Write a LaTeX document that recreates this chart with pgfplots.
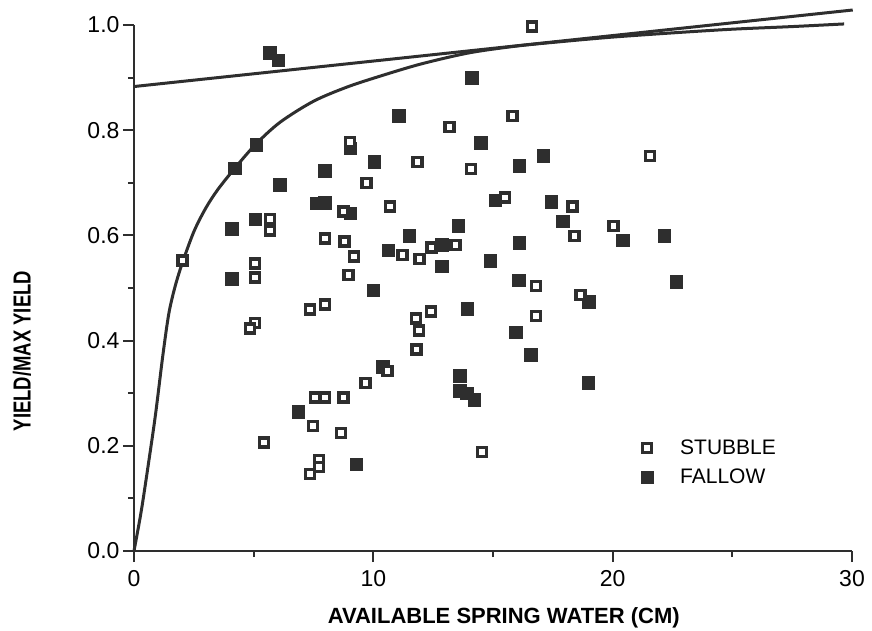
\documentclass[border=0pt]{standalone}
\usepackage{pgfplots}
\pgfplotsset{compat=1.18}
\usepackage{fontspec}
\setmainfont{Liberation Sans}
\definecolor{ink}{gray}{0.18}
\pgfplotsset{myleg/.style={legend image code/.code={\draw[##1] plot coordinates {(8pt,0pt)}; \path[draw=none,fill=none] (0pt,-6pt) rectangle (39pt,6pt);}}}
\begin{document}
\begin{tikzpicture}
\useasboundingbox (-134pt,-80pt) rectangle (738pt,551pt);
\begin{axis}[
  at={(0pt,0pt)}, anchor=south west,
  scale only axis, width=718pt, height=526pt,
  xmin=0, xmax=30, ymin=0, ymax=1,
  clip=false,
  separate axis lines,
  axis x line*=bottom, axis y line*=left,
  x axis line style={-, line width=2.5pt, ink},
  y axis line style={-, line width=2.5pt, ink},
  xtick={0,10,20,30}, minor xtick={5,15,25},
  ytick={0,0.2,0.4,0.6,0.8,1.0}, minor ytick={0.1,0.3,0.5,0.7,0.9},
  tick align=outside, major tick length=11pt, minor tick length=6pt,
  every tick/.style={line width=2pt, ink},
  /pgf/number format/assume math mode=true,
  xticklabel style={font=\fontsize{23}{23}\selectfont, yshift=-5pt},
  yticklabel style={font=\fontsize{23}{23}\selectfont,
    /pgf/number format/.cd, fixed, fixed zerofill, precision=1},
  xlabel={\textbf{AVAILABLE SPRING WATER (CM)}},
  every axis x label/.style={at={(rel axis cs:0.515,0)}, anchor=base, yshift=-72pt,
    font=\fontsize{22}{22}\selectfont},
  ylabel={\scalebox{0.84}[1.12]{\textbf{YIELD/MAX YIELD}}},
  every axis y label/.style={at={(rel axis cs:-0.156,0.38)}, anchor=center, rotate=90,
    font=\fontsize{22}{22}\selectfont},
  legend style={at={(axis cs:21.1,0.2155)}, anchor=north west, draw=none, fill=none,
    font=\fontsize{21}{21}\selectfont, inner sep=0pt, row sep=9pt},
  legend cell align=left,
  reverse legend,
]
% straight line
\addplot[ink, line width=3pt, forget plot] coordinates {(0,0.883) (30.03,1.0285)};
% fitted curve
\addplot[ink, line width=3pt, smooth, forget plot] coordinates {
(0,0) (0.3,0.075) (0.6,0.165) (0.9,0.26) (1.2,0.37) (1.45,0.45) (1.7,0.50)
(2.0,0.545) (2.5,0.607) (3.0,0.652) (3.5,0.687) (4.2,0.727) (5.06,0.772) (6.1,0.815)
(7.5,0.855) (8.9,0.882) (10.3,0.903) (12,0.926) (14,0.947) (16,0.960)
(18,0.969) (20,0.977) (22.5,0.985) (25,0.992) (27.5,0.997) (29.67,1.002)};
% FALLOW
\addplot[only marks, mark=square*, mark size=6.3pt,
  mark options={fill=ink, draw=ink, line width=0.5pt}, myleg]
coordinates {
(5.68,0.947) (6.02,0.933) (14.11,0.900) (11.05,0.827) (14.50,0.776) (5.10,0.772)
(9.03,0.766) (17.10,0.751) (10.03,0.740) (16.10,0.732) (4.22,0.728) (7.98,0.723)
(6.10,0.696) (15.09,0.667) (17.43,0.664) (7.63,0.661) (7.98,0.662) (9.03,0.642)
(5.06,0.631) (17.91,0.627) (13.55,0.618) (4.08,0.613) (11.50,0.599) (22.16,0.599)
(20.42,0.591) (16.10,0.586) (12.86,0.582) (10.63,0.572) (14.88,0.552) (12.86,0.541)
(4.08,0.518) (16.08,0.515) (22.65,0.512) (10.0,0.496) (19.01,0.474) (13.93,0.460)
(15.95,0.416) (16.58,0.373) (10.39,0.350) (13.62,0.333) (18.98,0.320) (13.62,0.305)
(13.90,0.300) (14.21,0.288) (6.87,0.265) (9.28,0.165)};
\addlegendentry{FALLOW}
% STUBBLE
\addplot[only marks, mark=square*, mark size=4.5pt,
  mark options={fill=white, draw=ink, line width=3.5pt}, myleg]
coordinates {
(16.62,0.997) (15.81,0.827) (13.18,0.806) (9.03,0.778) (11.85,0.740) (14.08,0.726)
(21.56,0.751) (9.72,0.700) (10.70,0.655) (15.50,0.672) (18.32,0.655) (8.75,0.645)
(5.68,0.631) (5.68,0.609) (20.03,0.618) (18.40,0.599) (7.98,0.594) (8.79,0.588)
(13.44,0.582) (12.44,0.577) (11.21,0.563) (11.92,0.555) (9.19,0.560) (2.03,0.552)
(5.06,0.547) (8.96,0.525) (5.06,0.520) (16.79,0.504) (18.66,0.487) (7.98,0.469)
(7.35,0.459) (12.41,0.455) (16.79,0.447) (11.78,0.442) (5.06,0.433) (4.85,0.423)
(11.91,0.419) (11.81,0.383) (10.60,0.342) (9.68,0.319) (7.56,0.292) (7.98,0.292)
(8.75,0.292) (7.47,0.238) (8.64,0.224) (5.43,0.206) (14.53,0.188) (7.74,0.173)
(7.74,0.160) (7.35,0.146)};
\addlegendentry{STUBBLE}
\end{axis}
\end{tikzpicture}
\end{document}
